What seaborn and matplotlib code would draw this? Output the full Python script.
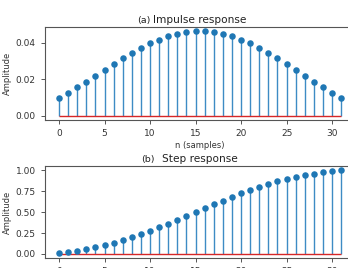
import numpy as np
import matplotlib
matplotlib.use('Agg')
import matplotlib.pyplot as plt
import matplotlib.transforms as mtransforms
import seaborn as sns

sns.set_theme(style='ticks', rc={
    'axes.edgecolor': '#555555',
    'axes.linewidth': 0.8,
    'xtick.color': '#555555',
    'ytick.color': '#555555',
    'xtick.labelcolor': '#333333',
    'ytick.labelcolor': '#333333',
    'xtick.major.size': 3,
    'ytick.major.size': 3,
    'xtick.major.width': 0.7,
    'ytick.major.width': 0.7,
    'xtick.labelsize': 6.5,
    'ytick.labelsize': 6.5,
    'axes.labelsize': 6,
    'axes.labelcolor': '#333333',
    'text.color': '#222222',
})
plt.rcParams['font.family'] = ['DejaVu Sans']

# 32-tap filter, values
n = list(range(32))
impulse = [0.0095, 0.0125, 0.0157, 0.0188, 0.0220, 0.0253, 0.0285, 0.0317,
           0.0346, 0.0372, 0.0397, 0.0418, 0.0435, 0.0449, 0.0458, 0.0463,
           0.0463, 0.0458, 0.0449, 0.0435, 0.0418, 0.0397, 0.0372, 0.0346,
           0.0317, 0.0285, 0.0253, 0.0220, 0.0188, 0.0157, 0.0125, 0.0095]
step = [0.010, 0.022, 0.038, 0.057, 0.079, 0.104, 0.133, 0.165,
        0.199, 0.237, 0.277, 0.319, 0.362, 0.407, 0.453, 0.500,
        0.546, 0.592, 0.637, 0.681, 0.723, 0.763, 0.800, 0.835,
        0.867, 0.896, 0.921, 0.943, 0.962, 0.978, 0.991, 1.000]

fig = plt.figure(figsize=(3.48, 2.68), dpi=100)
ax1 = fig.add_axes([0.129, 0.552, 0.892, 0.347])
ax2 = fig.add_axes([0.129, 0.037, 0.892, 0.343])

blue = '#1f77b4'
panels = [(ax1, impulse, '(a)', 'Impulse response', 0.339),
          (ax2, step, '(b)', 'Step response', 0.352)]

for ax, vals, tag, title, tx in panels:
    ax.vlines(n, 0, vals, color='#3d8bc4', linewidth=1.0)
    ax.hlines(0, n[0], n[-1], color='#d62728', linewidth=1.0)
    sns.scatterplot(x=n, y=vals, ax=ax, color=blue, s=22, linewidth=0, zorder=3)
    ax.set_title(title, fontsize=7.6, pad=3)
    trans = mtransforms.offset_copy(ax.transAxes, fig=fig, y=3, units='points')
    ax.text(tx, 1.0, tag, transform=trans, ha='right', va='baseline',
            fontsize=6.8, color='#222222')
    ax.set_ylabel('Amplitude')
    ax.set_xticks([0, 5, 10, 15, 20, 25, 30])

ax1.set_xlabel('n (samples)', labelpad=2)
ax1.set_yticks([0.0, 0.02, 0.04])
ax1.yaxis.set_major_formatter(matplotlib.ticker.FormatStrFormatter('%.2f'))
ax2.set_yticks([0.0, 0.25, 0.5, 0.75, 1.0])
ax2.yaxis.set_major_formatter(matplotlib.ticker.FormatStrFormatter('%.2f'))
for ax in (ax1, ax2):
    ax.yaxis.set_label_coords(-0.105, 0.5)

fig.savefig('out.png', dpi=100)
